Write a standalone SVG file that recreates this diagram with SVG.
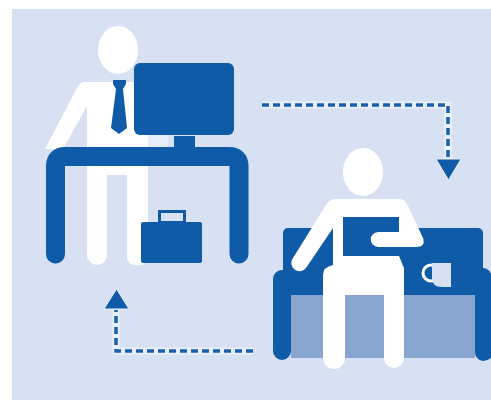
<svg xmlns="http://www.w3.org/2000/svg" width="491" height="400" viewBox="0 0 491 400">
<style>
.d{fill:#0f5ba8}
.w{fill:#fff}
.dash{fill:none;stroke:#1a5fae;stroke-width:3.5;stroke-dasharray:7 4}
.halo{fill:none;stroke:#eaf0fa;stroke-width:7}
</style>
<rect width="491" height="400" fill="#fff"/>
<rect x="12" y="9" width="479" height="391" fill="#d8e1f4"/>
<g id="worker">
<ellipse class="w" cx="118" cy="50" rx="20" ry="24"/>
<rect x="148" y="135" width="20" height="13" fill="#e6ecf8"/>
<path class="w" d="M84 82H148V257a8 8 0 0 1-8 8h-5a8 8 0 0 1-8-8V175H107V255a10 10 0 0 1-20 0V106L63 149H45L76 90Q80 82 84 82Z"/>
<path class="d" d="M113 80H126V84L123 89 127 128 119 134 111 128 116 89 113 84Z"/>
</g>
<g id="monitor">
<rect class="d" x="134" y="63" width="100" height="72" rx="6"/>
<rect class="d" x="174" y="136" width="21" height="14"/>
</g>
<g id="desk">
<path d="M55.500 254V166Q55.500 156.500 65 156.500H229Q239 156.500 239 166V254" fill="none" stroke="#0f5ba8" stroke-width="19" stroke-linecap="round"/>
</g>
<g id="briefcase">
<rect class="d" x="141" y="222" width="61" height="41" rx="2"/>
<rect x="159.500" y="211.500" width="25" height="11" fill="#d8e1f4" stroke="#0f5ba8" stroke-width="3"/>
</g>
<g id="sofa">
<rect class="d" x="283" y="228" width="200" height="90" rx="5"/>
<rect x="291" y="295" width="184" height="63" fill="#88a5d0"/>
<path class="d" d="M273 280a9 9 0 0 1 9-10h9V351a9 9 0 0 1-18 0Z"/>
<path class="d" d="M475 268h9a9 9 0 0 1 7 6V358Q487 361 483 361A9 9 0 0 1 475 351Z"/>
</g>
<g id="mug">
<circle cx="431" cy="273" r="8" fill="#0f5ba8" stroke="#fff" stroke-width="3"/>
<path d="M432 263H451V287H442Q432 287 432 278Z" fill="#d8e1f4"/>
</g>
<g id="sitter">
<ellipse class="w" cx="363" cy="172" rx="20" ry="24"/>
<path class="w" d="M335 199H400Q405 199 408 206L423 238Q426 247 416 247H378A7.500 7.500 0 0 1 378 232H399V217H343V256H399L404 268V358A10 10 0 0 1 384 358V295H345V358A11 11 0 0 1 323 358V275Q323 267 333 265V228L306 268A8 8 0 0 1 293 258L326 205Q330 199 335 199Z"/>
<rect class="d" x="343" y="217" width="56" height="15"/>
<path class="d" d="M343 232H378A7.500 7.500 0 0 0 378 247H399V256H343Z"/>
</g>
<g id="connectors">
<path class="halo" d="M262 105H448V160"/>
<path class="dash" d="M262 105H448V160"/>
<path d="M436 159H461L448.500 180Z" fill="#0f5ba8" stroke="#eaf0fa" stroke-width="1"/>
<path class="halo" d="M253 351H116V310"/>
<path class="dash" d="M253 351H116V310"/>
<path d="M104 309H129L116.500 289Z" fill="#0f5ba8" stroke="#eaf0fa" stroke-width="1"/>
</g>
</svg>
